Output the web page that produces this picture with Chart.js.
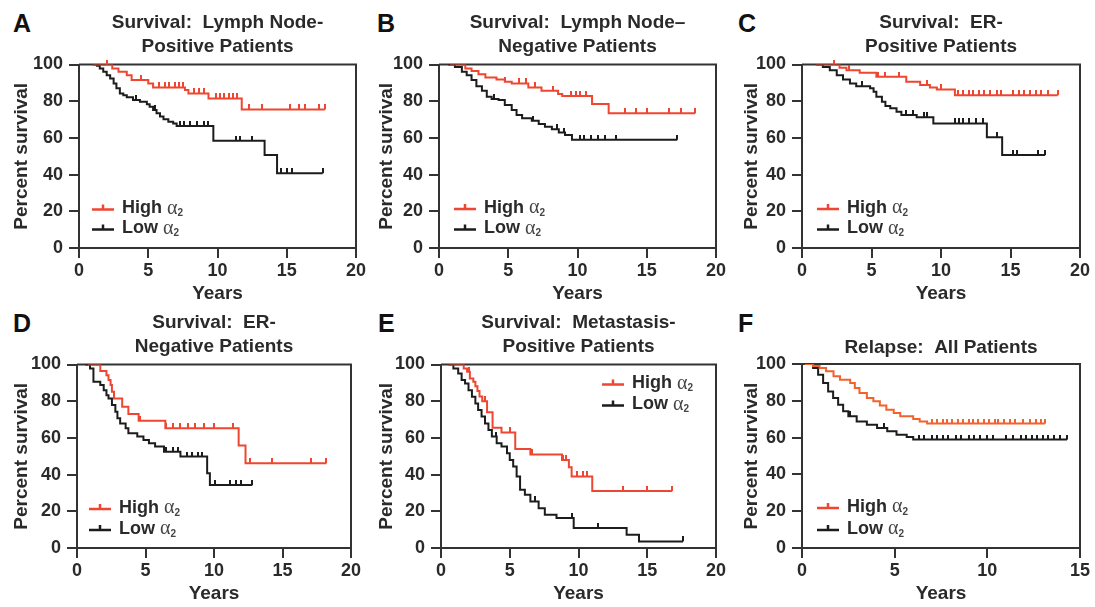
<!DOCTYPE html>
<html><head><meta charset="utf-8">
<script src="https://cdn.jsdelivr.net/npm/chart.js@4.4.1/dist/chart.umd.min.js"></script>
<style>
html,body{margin:0;padding:0;background:#fff;}
body{width:1095px;height:607px;position:relative;overflow:hidden;font-family:"Liberation Sans",Arial,sans-serif;}
canvas{position:absolute;}
.lbl{position:absolute;font:bold 25px "Liberation Sans",Arial,sans-serif;line-height:1;color:#111;}
</style></head><body>
<div class="lbl" style="left:13px;top:11px">A</div>
<div class="lbl" style="left:377px;top:11px">B</div>
<div class="lbl" style="left:738px;top:11px">C</div>
<div class="lbl" style="left:13px;top:311px">D</div>
<div class="lbl" style="left:378px;top:311px">E</div>
<div class="lbl" style="left:738px;top:311px">F</div>
<canvas id="cA" width="371" height="307" style="left:0px;top:0px"></canvas>
<canvas id="cB" width="366" height="307" style="left:365px;top:0px"></canvas>
<canvas id="cC" width="365" height="307" style="left:730px;top:0px"></canvas>
<canvas id="cD" width="366" height="307" style="left:0px;top:300px"></canvas>
<canvas id="cE" width="366" height="307" style="left:365px;top:300px"></canvas>
<canvas id="cF" width="365" height="307" style="left:730px;top:300px"></canvas>
<script>
// ---------- tick labels / categories ----------
const yTickValues = [0, 20, 40, 60, 80, 100];
const xTickValues20 = [0, 5, 10, 15, 20];
const xTickValues15 = [0, 5, 10, 15];
const seriesLabels = ['High', 'Low'];
const alphaSymbol = 'α';
const alphaSub = '2';
const yAxisTitle = 'Percent survival';
const xAxisTitle = 'Years';

const titleA = ['Survival:  Lymph Node-', 'Positive Patients'];
const titleB = ['Survival:  Lymph Node–', 'Negative Patients'];
const titleC = ['Survival:  ER-', 'Positive Patients'];
const titleD = ['Survival:  ER-', 'Negative Patients'];
const titleE = ['Survival:  Metastasis-', 'Positive Patients'];
const titleF = ['Relapse:  All Patients'];

// ---------- Panel A ----------
const aHighT = [1.0, 2.4, 2.85, 3.45, 3.8, 5.0, 5.35, 7.65, 7.9, 9.35, 11.75];
const aHighS = [100, 97.8, 96.0, 94.2, 91.5, 89.7, 87.5, 86.1, 84.2, 81.5, 75.5];
const aHighEnd = 17.75;
const aHighCens = [2.0, 4.5, 5.8, 6.2, 6.5, 6.9, 7.2, 7.5, 8.3, 8.7, 9.0, 9.9, 10.2, 10.5, 10.8, 11.1, 11.4, 12.3, 13.2, 15.2, 15.9, 16.3, 17.3, 17.75];
const aLowT = [1.0, 1.3, 1.5, 1.75, 2.0, 2.25, 2.5, 2.7, 2.95, 3.2, 3.45, 3.9, 4.4, 4.9, 5.1, 5.35, 5.6, 5.85, 6.1, 6.45, 6.8, 7.05, 9.7, 13.4, 14.3];
const aLowS = [100, 99.3, 97.8, 96.0, 94.2, 92.4, 89.7, 87.0, 84.2, 83.3, 82.1, 80.6, 79.7, 78.4, 77.0, 75.2, 73.4, 71.6, 70.1, 68.8, 67.9, 66.5, 58.5, 50.7, 40.8];
const aLowEnd = 17.6;
const aLowCens = [4.1, 5.5, 7.3, 7.6, 8.0, 8.5, 9.0, 9.3, 11.3, 11.6, 12.5, 14.6, 15.0, 15.4, 17.6];

// ---------- Panel B ----------
const bHighT = [0.8, 1.9, 2.35, 2.85, 3.35, 4.15, 4.75, 5.25, 6.45, 7.4, 8.6, 8.9, 11.05, 12.25];
const bHighS = [100, 97.8, 96.5, 94.7, 92.9, 91.8, 90.6, 89.7, 87.5, 85.7, 83.9, 82.8, 78.5, 73.4];
const bHighEnd = 18.5;
const bHighCens = [4.8, 5.8, 6.3, 6.9, 8.2, 9.5, 9.9, 10.2, 10.6, 13.4, 14.2, 15.0, 16.6, 17.5, 18.5];
const bLowT = [0.67, 1.15, 1.65, 2.0, 2.35, 2.7, 3.1, 3.45, 3.8, 4.3, 4.75, 5.25, 5.6, 6.0, 6.7, 7.2, 7.65, 8.15, 8.65, 9.1, 9.6];
const bLowS = [100, 98.7, 96.0, 94.2, 91.5, 88.2, 85.7, 82.4, 81.2, 80.6, 77.9, 75.2, 72.5, 70.7, 69.4, 67.6, 66.1, 64.7, 62.9, 61.6, 59.0];
const bLowEnd = 17.2;
const bLowCens = [4.0, 6.8, 8.5, 9.0, 10.2, 10.5, 11.0, 11.5, 12.0, 12.8, 17.2];

// ---------- Panel C ----------
const cHighT = [1.0, 2.7, 3.2, 4.15, 5.35, 7.5, 8.5, 9.2, 9.7, 11.0];
const cHighS = [100, 98.2, 96.9, 95.5, 93.3, 90.6, 88.8, 87.5, 86.4, 83.3];
const cHighEnd = 18.4;
const cHighCens = [2.3, 3.4, 5.5, 6.0, 7.0, 9.0, 10.0, 11.2, 11.6, 12.0, 12.3, 12.7, 13.1, 13.5, 14.0, 14.3, 15.2, 15.6, 16.0, 16.4, 16.8, 17.2, 17.7, 18.4];
const cLowT = [1.0, 1.5, 2.0, 2.5, 2.95, 3.45, 3.9, 4.9, 5.15, 5.35, 5.75, 6.0, 6.35, 6.8, 7.15, 8.25, 9.45, 13.3, 14.4];
const cLowS = [100, 98.7, 96.9, 94.2, 91.8, 89.7, 88.2, 87.0, 85.1, 82.4, 79.7, 77.4, 76.1, 74.3, 72.5, 71.2, 67.9, 60.3, 50.7];
const cLowEnd = 17.5;
const cLowCens = [4.3, 7.5, 8.0, 8.8, 9.0, 11.0, 11.3, 11.6, 12.0, 12.5, 13.0, 14.0, 15.2, 15.5, 17.0, 17.5];

// ---------- Panel D ----------
const dHighT = [0.8, 1.7, 2.15, 2.3, 2.45, 2.55, 2.7, 3.3, 3.75, 4.5, 6.45, 11.8, 12.3];
const dHighS = [100, 96.4, 94.2, 91.5, 88.8, 85.1, 81.5, 77.0, 73.0, 69.4, 65.2, 55.8, 46.2];
const dHighEnd = 18.2;
const dHighCens = [4.6, 6.5, 7.0, 7.5, 8.1, 8.6, 9.3, 10.0, 11.4, 12.6, 14.2, 17.1, 18.2];
const dLowT = [0.6, 0.95, 1.2, 1.7, 1.95, 2.15, 2.3, 2.55, 2.8, 2.95, 3.15, 3.55, 3.75, 4.4, 4.85, 5.25, 5.7, 6.35, 7.55, 9.5, 9.7];
const dLowS = [100, 97.8, 90.6, 88.8, 86.0, 83.3, 81.5, 77.9, 74.3, 70.7, 67.9, 65.2, 62.5, 60.7, 58.9, 57.1, 55.3, 52.5, 49.8, 40.8, 34.4];
const dLowEnd = 12.8;
const dLowCens = [6.5, 7.0, 7.4, 8.0, 8.4, 8.8, 9.1, 10.1, 11.2, 11.6, 12.0, 12.8];

// ---------- Panel E ----------
const eHighT = [0.55, 1.65, 1.9, 2.1, 2.35, 2.5, 2.65, 2.8, 3.0, 3.35, 3.75, 4.4, 5.4, 6.5, 8.8, 9.3, 9.5, 11.0];
const eHighS = [100, 97.8, 96.0, 92.4, 90.6, 88.2, 85.5, 82.5, 80.0, 74.0, 65.5, 63.0, 54.0, 51.0, 48.0, 44.0, 39.0, 31.0];
const eHighEnd = 16.8;
const eHighCens = [2.0, 3.2, 5.0, 6.6, 8.9, 9.1, 9.9, 10.3, 10.6, 13.2, 15.0, 16.8];
const eLowT = [0.55, 0.9, 1.25, 1.5, 1.75, 2.0, 2.25, 2.5, 2.7, 2.95, 3.2, 3.45, 3.7, 4.05, 4.4, 4.8, 5.0, 5.25, 5.5, 5.75, 6.1, 6.5, 7.1, 7.55, 8.4, 9.65, 13.5, 14.4];
const eLowS = [100, 97.8, 95.1, 91.5, 89.7, 86.0, 82.4, 78.8, 75.2, 71.6, 67.9, 64.3, 60.7, 57.1, 55.3, 51.6, 48.0, 44.4, 39.0, 31.7, 29.0, 25.4, 21.7, 18.1, 16.3, 10.9, 7.2, 3.6];
const eLowEnd = 17.6;
const eLowCens = [4.0, 6.8, 9.5, 11.4, 17.6];

// ---------- Panel F ----------
const fHighT = [0.15, 0.6, 0.95, 1.3, 1.7, 2.05, 2.6, 2.85, 3.1, 3.5, 3.85, 4.2, 4.55, 4.95, 5.3, 6.0, 6.35, 6.75];
const fHighS = [100, 98.9, 97.8, 96.0, 93.3, 91.5, 89.7, 87.0, 84.2, 81.5, 79.7, 77.4, 75.2, 73.4, 71.6, 70.1, 68.8, 67.6];
const fHighEnd = 13.1;
const fHighCens = [7.0, 7.3, 7.6, 7.8, 8.1, 8.4, 8.7, 9.0, 9.2, 9.5, 9.8, 10.1, 10.4, 10.6, 10.9, 11.2, 11.5, 11.9, 12.3, 12.6, 12.9, 13.1];
const fLowT = [0.42, 0.6, 0.87, 1.14, 1.41, 1.68, 1.95, 2.22, 2.5, 2.95, 3.5, 4.05, 4.6, 5.1, 5.65, 6.0];
const fLowS = [100, 97.8, 94.2, 89.7, 85.1, 81.5, 77.9, 74.3, 71.6, 68.8, 67.0, 65.2, 63.4, 61.6, 60.3, 58.9];
const fLowEnd = 14.3;
const fLowCens = [2.6, 4.4, 6.3, 6.6, 7.0, 7.3, 7.6, 7.9, 8.3, 8.6, 9.0, 9.3, 9.6, 10.0, 10.3, 11.0, 11.4, 11.8, 12.1, 12.4, 12.7, 13.0, 13.3, 13.6, 13.9, 14.3];

// ---------- styling ----------
const RED = '#ee4630';
const RED_F = '#f2622c';
const BLACK = '#1c1c1c';
const INK = '#2a2a2a';
const FONT = '"Liberation Sans", Arial, Helvetica, sans-serif';

Chart.defaults.font.family = FONT;
Chart.defaults.color = INK;

function stepPoints(T, S, end) {
  const pts = T.map((t, i) => ({x: t, y: S[i]}));
  pts.push({x: end, y: S[S.length - 1]});
  return pts;
}
function survAt(T, S, t) {
  let s = S[0];
  for (let i = 0; i < T.length; i++) if (T[i] <= t) s = S[i];
  return s;
}
function tickImg(color) {
  const c = document.createElement('canvas');
  c.width = 2; c.height = 10;
  const g = c.getContext('2d');
  g.fillStyle = color; g.fillRect(0, 0, 2, 5);
  return c;
}

const framePlugin = {
  id: 'frame',
  beforeDatasetsDraw(chart) {
    const {ctx, chartArea: a} = chart;
    ctx.save();
    ctx.strokeStyle = '#333'; ctx.lineWidth = 2;
    ctx.beginPath();
    ctx.moveTo(a.left, a.top); ctx.lineTo(a.right, a.top); ctx.lineTo(a.right, a.bottom);
    ctx.stroke();
    ctx.restore();
  }
};

const kmLegend = {
  id: 'kmLegend',
  afterDraw(chart, args, opts) {
    const {ctx, chartArea: a} = chart;
    const x0 = a.left + opts.dx;
    opts.colors.forEach((col, i) => {
      const y = opts.from === 'top' ? a.top + opts.dy[i] : a.bottom + opts.dy[i];
      ctx.save();
      ctx.strokeStyle = col; ctx.lineWidth = 2.5;
      ctx.beginPath();
      ctx.moveTo(x0, y); ctx.lineTo(x0 + 22, y);
      ctx.moveTo(x0 + 11, y); ctx.lineTo(x0 + 11, y - 5);
      ctx.stroke();
      ctx.fillStyle = INK; ctx.textBaseline = 'middle'; ctx.textAlign = 'left';
      const tx = x0 + 30, ty = y - 1;
      ctx.font = 'bold 18px ' + FONT;
      ctx.fillText(seriesLabels[i], tx, ty);
      const w = ctx.measureText(seriesLabels[i] + ' ').width;
      ctx.fillStyle = '#444';
      ctx.font = '20px "Liberation Serif", "DejaVu Serif", serif';
      ctx.fillText(alphaSymbol, tx + w, ty);
      const w2 = ctx.measureText(alphaSymbol).width;
      ctx.font = 'bold 10px ' + FONT;
      ctx.fillText(alphaSub, tx + w + w2, ty + 5);
      ctx.restore();
    });
  }
};

function makePanel(id, cfg) {
  const series = [
    {T: cfg.hT, S: cfg.hS, end: cfg.hEnd, C: cfg.hC, color: cfg.red},
    {T: cfg.lT, S: cfg.lS, end: cfg.lEnd, C: cfg.lC, color: BLACK}
  ];
  const datasets = [];
  series.forEach((s, i) => {
    datasets.push({
      label: seriesLabels[i],
      data: stepPoints(s.T, s.S, s.end),
      borderColor: s.color, borderWidth: 2, stepped: true,
      pointRadius: 0, fill: false
    });
    datasets.push({
      label: seriesLabels[i] + ' censored',
      data: s.C.map(t => ({x: t, y: survAt(s.T, s.S, t)})),
      showLine: false, pointStyle: tickImg(s.color), pointRadius: 4,
      borderColor: s.color, backgroundColor: s.color, clip: false
    });
  });
  const xTicks = cfg.xMax === 15 ? xTickValues15 : xTickValues20;
  const title = cfg.title;
  const titlePad = title.length === 2 ? {top: 11, bottom: 6} : {top: 36, bottom: 4.25};
  new Chart(document.getElementById(id), {
    type: 'line',
    data: {datasets},
    options: {
      responsive: false, animation: false, devicePixelRatio: 1,
      layout: {padding: {left: 0, right: 15, top: 0, bottom: 0}},
      plugins: {
        legend: {display: false}, tooltip: {enabled: false},
        title: {
          display: true, text: title, fullSize: false, color: INK,
          font: {size: 19, weight: 'bold', lineHeight: 1.25}, padding: titlePad
        },
        kmLegend: cfg.legend
      },
      scales: {
        x: {
          type: 'linear', min: 0, max: cfg.xMax,
          afterBuildTicks: sc => { sc.ticks = xTicks.map(v => ({value: v})); },
          afterFit: sc => { sc.height = 59; },
          ticks: {color: INK, font: {size: 18, weight: 'bold'}, padding: 2, maxRotation: 0},
          grid: {drawOnChartArea: false, drawTicks: true, tickLength: 10, color: '#333', lineWidth: 2},
          border: {color: '#333', width: 2},
          title: {display: true, text: xAxisTitle, color: INK, font: {size: 19, weight: 'bold', lineHeight: 1.2}, padding: {top: 0, bottom: 2}}
        },
        y: {
          type: 'linear', min: 0, max: 100,
          afterBuildTicks: sc => { sc.ticks = yTickValues.map(v => ({value: v})); },
          afterFit: sc => { sc.width = cfg.yw; },
          ticks: {color: INK, font: {size: 18, weight: 'bold'}, padding: 6},
          grid: {drawOnChartArea: false, drawTicks: true, tickLength: 10, color: '#333', lineWidth: 2},
          border: {color: '#333', width: 2},
          title: {display: true, text: yAxisTitle, color: INK, font: {size: 19, weight: 'bold', lineHeight: 1.2}, padding: {top: 10, bottom: 0}}
        }
      }
    },
    plugins: [framePlugin, kmLegend]
  });
}

makePanel('cA', {title: titleA, yw: 79, xMax: 20, red: RED, legend: {dx: 13, dy: [-38.5, -18.5], from: 'bottom', colors: [RED, BLACK]},
  hT: aHighT, hS: aHighS, hEnd: aHighEnd, hC: aHighCens, lT: aLowT, lS: aLowS, lEnd: aLowEnd, lC: aLowCens});
makePanel('cB', {title: titleB, yw: 74, xMax: 20, red: RED, legend: {dx: 15, dy: [-39, -18.5], from: 'bottom', colors: [RED, BLACK]},
  hT: bHighT, hS: bHighS, hEnd: bHighEnd, hC: bHighCens, lT: bLowT, lS: bLowS, lEnd: bLowEnd, lC: bLowCens});
makePanel('cC', {title: titleC, yw: 72, xMax: 20, red: RED, legend: {dx: 15, dy: [-39, -18.5], from: 'bottom', colors: [RED, BLACK]},
  hT: cHighT, hS: cHighS, hEnd: cHighEnd, hC: cHighCens, lT: cLowT, lS: cLowS, lEnd: cLowEnd, lC: cLowCens});
makePanel('cD', {title: titleD, yw: 77, xMax: 20, red: RED, legend: {dx: 12, dy: [-39, -18], from: 'bottom', colors: [RED, BLACK]},
  hT: dHighT, hS: dHighS, hEnd: dHighEnd, hC: dHighCens, lT: dLowT, lS: dLowS, lEnd: dLowEnd, lC: dLowCens});
makePanel('cE', {title: titleE, yw: 76, xMax: 20, red: RED, legend: {dx: 161, dy: [20, 41], from: 'top', colors: [RED, BLACK]},
  hT: eHighT, hS: eHighS, hEnd: eHighEnd, hC: eHighCens, lT: eLowT, lS: eLowS, lEnd: eLowEnd, lC: eLowCens});
makePanel('cF', {title: titleF, yw: 72, xMax: 15, red: RED_F, legend: {dx: 15, dy: [-40, -18], from: 'bottom', colors: [RED, BLACK]},
  hT: fHighT, hS: fHighS, hEnd: fHighEnd, hC: fHighCens, lT: fLowT, lS: fLowS, lEnd: fLowEnd, lC: fLowCens});
</script>
</body></html>
